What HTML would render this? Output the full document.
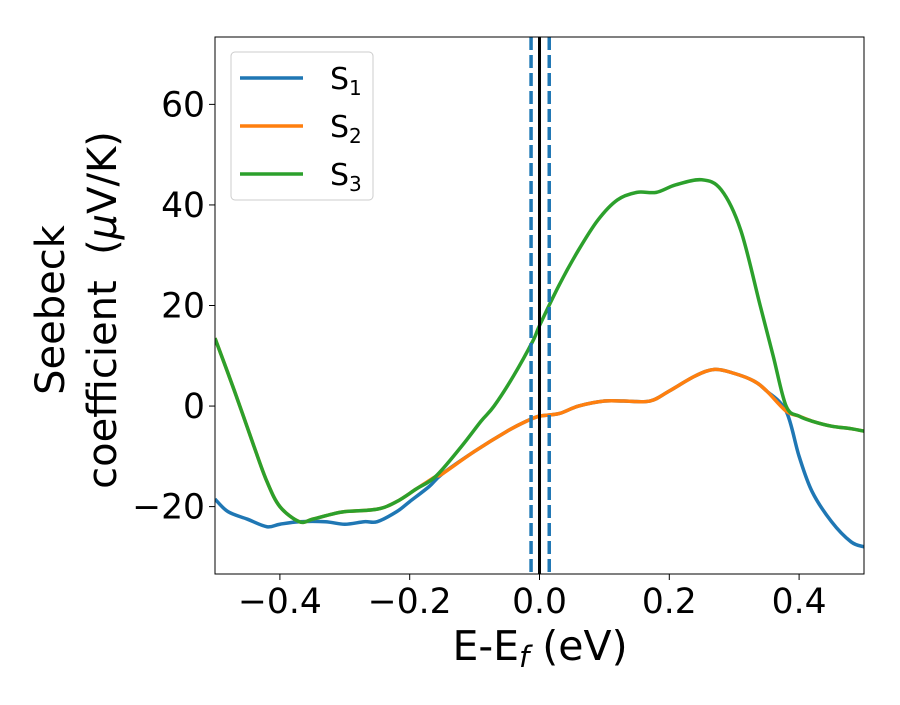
<!DOCTYPE html>
<html><head><meta charset="utf-8"><style>
body{margin:0;background:#fff}
svg text{font-family:"DejaVu Sans","Liberation Sans",sans-serif;fill:#000}
</style></head><body>
<svg id="chart" width="900" height="700">
<g id="plot"></g>
</svg>
<script>
const s1x=[-0.5,-0.48,-0.45,-0.42,-0.4,-0.37,-0.33,-0.3,-0.27,-0.25,-0.22,-0.2,-0.17,-0.15,-0.1,-0.05,-0.02,0,0.03,0.06,0.1,0.13,0.17,0.2,0.24,0.27,0.3,0.33,0.35,0.38,0.4,0.42,0.45,0.48,0.5];
const s1y=[-18.5,-21,-22.5,-24,-23.5,-23,-23,-23.5,-23,-23,-21,-19,-16,-13.5,-9,-5,-3,-2,-1.5,0,1,1,1,3,6,7.3,6.5,5,3,-1,-10,-17,-23,-27,-28];
const s3x=[-0.5,-0.47,-0.44,-0.42,-0.4,-0.37,-0.35,-0.32,-0.3,-0.25,-0.22,-0.19,-0.16,-0.12,-0.09,-0.07,-0.04,-0.01,0,0.03,0.06,0.09,0.12,0.15,0.18,0.21,0.25,0.28,0.31,0.34,0.36,0.38,0.4,0.42,0.45,0.48,0.5];
const s3y=[13.5,3,-8,-15,-20,-23,-22.5,-21.5,-21,-20.5,-19,-16.5,-14,-8,-3,0,6,13,16,24,31,37,41,42.5,42.5,44,45,43,35,20,10,0,-2,-3,-4,-4.5,-5];
const s2x=[-0.5,-0.47,-0.44,-0.42,-0.4,-0.37,-0.35,-0.32,-0.3,-0.25,-0.22,-0.19,-0.16,-0.15,-0.1,-0.05,-0.02,0,0.03,0.06,0.1,0.13,0.17,0.2,0.24,0.27,0.3,0.33,0.35,0.38,0.4,0.42,0.45,0.48,0.5];
const s2y=[13.5,3,-8,-15,-20,-23,-22.5,-21.5,-21,-20.5,-19,-16.5,-14,-13.5,-9,-5,-3,-2,-1.5,0,1,1,1,3,6,7.3,6.5,5,3,-1,-2,-3,-4,-4.5,-5];
const xTicks=[-0.4,-0.2,0.0,0.2,0.4];
const xTickLabels=["\u22120.4","\u22120.2","0.0","0.2","0.4"];
const yTicks=[-20,0,20,40,60];
const yTickLabels=["\u221220","0","20","40","60"];
const vLines=[-0.013,0.015];
const L=215,R=864,T=37,B=574,xmin=-0.5,xmax=0.5,ymin=-33.4,ymax=73.4;
const X=v=>L+(v-xmin)/(xmax-xmin)*(R-L);
const Y=v=>B-(v-ymin)/(ymax-ymin)*(B-T);
const NS="http://www.w3.org/2000/svg";
const g=document.getElementById('plot');
function mk(t,a,p){const e=document.createElementNS(NS,t);for(const k in a)e.setAttribute(k,a[k]);(p||g).appendChild(e);return e;}
function path(xs,ys){const P=xs.map((x,i)=>[X(x),Y(ys[i])]);let d=`M${P[0][0]},${P[0][1]}`;
for(let i=0;i<P.length-1;i++){const p0=P[i-1]||P[i],p1=P[i],p2=P[i+1],p3=P[i+2]||p2;
d+=` C${p1[0]+(p2[0]-p0[0])/6},${p1[1]+(p2[1]-p0[1])/6} ${p2[0]-(p3[0]-p1[0])/6},${p2[1]-(p3[1]-p1[1])/6} ${p2[0]},${p2[1]}`;}return d;}
const clip=mk('clipPath',{id:'c'});mk('rect',{x:L,y:T,width:R-L,height:B-T},clip);
const series=[[s1x,s1y,'#1f77b4','series-s1'],[s2x,s2y,'#ff7f0e','series-s2'],[s3x,s3y,'#2ca02c','series-s3']];
series.forEach(s=>{const e=mk('path',{d:path(s[0],s[1]),fill:'none',stroke:s[2],'stroke-width':3.5,'clip-path':'url(#c)'});

});
vLines.forEach(v=>{const e=mk('line',{x1:X(v),x2:X(v),y1:T,y2:B,stroke:'#1f77b4','stroke-width':3.5,'stroke-dasharray':'13,5'});

});
const f=mk('line',{x1:X(0),x2:X(0),y1:T,y2:B,stroke:'#000','stroke-width':3});


const fr=mk('rect',{x:L,y:T,width:R-L,height:B-T,fill:'none',stroke:'#000','stroke-width':1});


xTicks.forEach((v,i)=>{mk('line',{x1:X(v),x2:X(v),y1:B,y2:B+6,stroke:'#000'});
const t=mk('text',{x:X(v),y:B+39,'text-anchor':'middle','font-size':34.5});t.textContent=xTickLabels[i];

});
yTicks.forEach((v,i)=>{mk('line',{x1:L-6,x2:L,y1:Y(v),y2:Y(v),stroke:'#000'});
const t=mk('text',{x:L-10,y:Y(v)+12,'text-anchor':'end','font-size':34.5});t.textContent=yTickLabels[i];

});
</script>
<svg width="900" height="700" style="position:absolute;left:0;top:0">
<text x="540" y="660" text-anchor="middle" font-size="41">E-E<tspan font-style="italic" font-size="29" dy="7">f</tspan><tspan dy="-7"> (eV)</tspan></text>
<g transform="translate(64,310) rotate(-90)">
<text x="0" y="0" text-anchor="middle" font-size="40">Seebeck</text>
<text x="0" y="52" text-anchor="middle" font-size="40" xml:space="preserve">coefficient  (<tspan font-style="italic">μ</tspan>V/K)</text>
</g>
<g>
<rect x="231" y="52" width="142" height="148" rx="4" fill="#fff" fill-opacity="0.8" stroke="#ccc"/>
<line x1="240" x2="303" y1="78" y2="78" stroke="#1f77b4" stroke-width="3.5"/>
<text x="330" y="89" font-size="30">S<tspan font-size="20" dy="6">1</tspan></text>
<line x1="240" x2="303" y1="126" y2="126" stroke="#ff7f0e" stroke-width="3.5"/>
<text x="330" y="137" font-size="30">S<tspan font-size="20" dy="6">2</tspan></text>
<line x1="240" x2="303" y1="174" y2="174" stroke="#2ca02c" stroke-width="3.5"/>
<text x="330" y="185" font-size="30">S<tspan font-size="20" dy="6">3</tspan></text>
</g>
</svg>
</body></html>
